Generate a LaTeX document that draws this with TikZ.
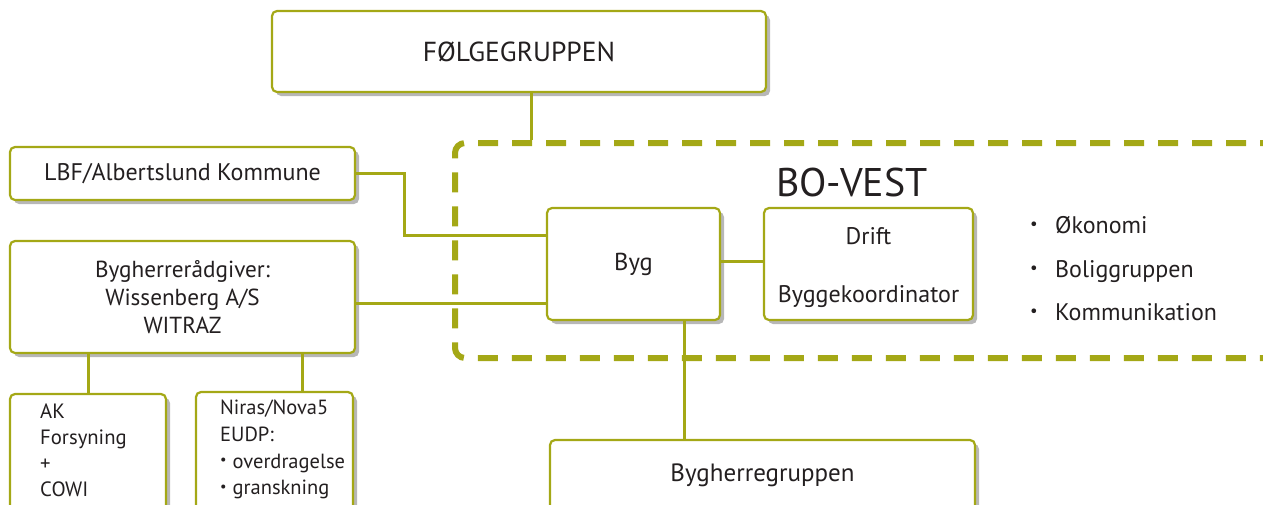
\documentclass[tikz,border=0pt]{standalone}
\usepackage{fontspec}
\setmainfont{PT Sans}
\usetikzlibrary{shadows,calc}
\definecolor{ogreen}{RGB}{164,168,22}
\definecolor{txt}{RGB}{35,31,32}
\newcommand{\smbul}{\raisebox{0.18em}{\scalebox{0.7}{•}}}
\tikzset{
  box/.style={draw=ogreen, line width=2.2pt, rounded corners=5pt, fill=white,
    drop shadow={shadow xshift=4pt, shadow yshift=-4pt, opacity=0.4, fill=black!70},
    inner sep=0pt, align=center, text=txt},
  link/.style={draw=ogreen, line width=3pt},
  lbl/.style={text=txt, inner sep=0pt},
}
\begin{document}
\begin{tikzpicture}[x=1pt,y=-1pt]
\useasboundingbox (0,0) rectangle (1263,504);
\clip (0,0) rectangle (1263,504);

% BO-VEST dashed region
\node[draw=ogreen, line width=6pt, dash pattern=on 20pt off 14pt, rounded corners=10pt,
      minimum width=835pt, minimum height=215pt, inner sep=0pt] (bovest) at (872.5,250.5) {};
\node[lbl, font=\fontsize{40}{46}\selectfont] (title) at (852,182) {BO-VEST};
\node[lbl, anchor=west, align=left, font=\fontsize{24}{43.5}\selectfont] (list) at (1030,269)
  {\makebox[25pt][l]{\smbul}Økonomi\\ \makebox[25pt][l]{\smbul}Boliggruppen\\ \makebox[25pt][l]{\smbul}Kommunikation};

% boxes
\node[box, minimum width=494pt, minimum height=81pt, font=\fontsize{27.5}{32}\selectfont] (folge) at (519,51.5) {FØLGEGRUPPEN};
\node[box, minimum width=345pt, minimum height=53pt, font=\fontsize{24}{28}\selectfont] (lbf) at (182.5,173.5) {LBF/Albertslund Kommune};
\node[box, minimum width=345pt, minimum height=112pt, font=\fontsize{23.2}{28}\selectfont] (bygh) at (182.5,297) {Bygherrerådgiver:\\Wissenberg A/S\\WITRAZ};
\node[box, minimum width=156pt, minimum height=120pt] (ak) at (88,454) {};
\node[lbl, anchor=north west, align=left, font=\fontsize{20.7}{26}\selectfont] (aktext) at (40,404) {AK\\Forsyning\\+\\COWI};
\node[box, minimum width=157pt, minimum height=122pt] (niras) at (274.5,453) {};
\node[lbl, anchor=north west, align=left, font=\fontsize{20.5}{26.7}\selectfont] (nirastext) at (220,400) {Niras/Nova5\\EUDP:\\\smbul\hspace{6pt}overdragelse\\\smbul\hspace{6pt}granskning};
\node[box, minimum width=173pt, minimum height=112pt, font=\fontsize{24.5}{28}\selectfont] (byg) at (633.5,264) {Byg};
\node[box, minimum width=209pt, minimum height=112pt] (drift) at (868.5,264) {};
\node[lbl, align=center, font=\fontsize{24}{28}\selectfont] (drifttext) at ([yshift=-4pt]drift.center) {Drift\\[30pt]Byggekoordinator};
\node[box, minimum width=425pt, minimum height=70pt, font=\fontsize{25}{28}\selectfont] (bgr) at (762.5,475) {Bygherregruppen};

% connectors
\draw[link] ([xshift=12pt]folge.south) -- ([xshift=12pt]folge.south |- bovest.north);
\draw[link] (lbf.east) -- ++(48,0) |- ([yshift=29pt]byg.west);
\draw[link] ([yshift=-6pt]bygh.east) -- ([yshift=-6pt]bygh.east -| byg.west);
\draw[link] ([yshift=3pt]byg.east) -- ([yshift=3pt]byg.east -| drift.west);
\draw[link] ([xshift=50.5pt]byg.south) -- ([xshift=50.5pt]byg.south |- bgr.north);
\draw[link] (bygh.south -| ak.north) -- (ak.north);
\draw[link] ([xshift=27.5pt]niras.north |- bygh.south) -- ([xshift=27.5pt]niras.north);
\end{tikzpicture}
\end{document}
